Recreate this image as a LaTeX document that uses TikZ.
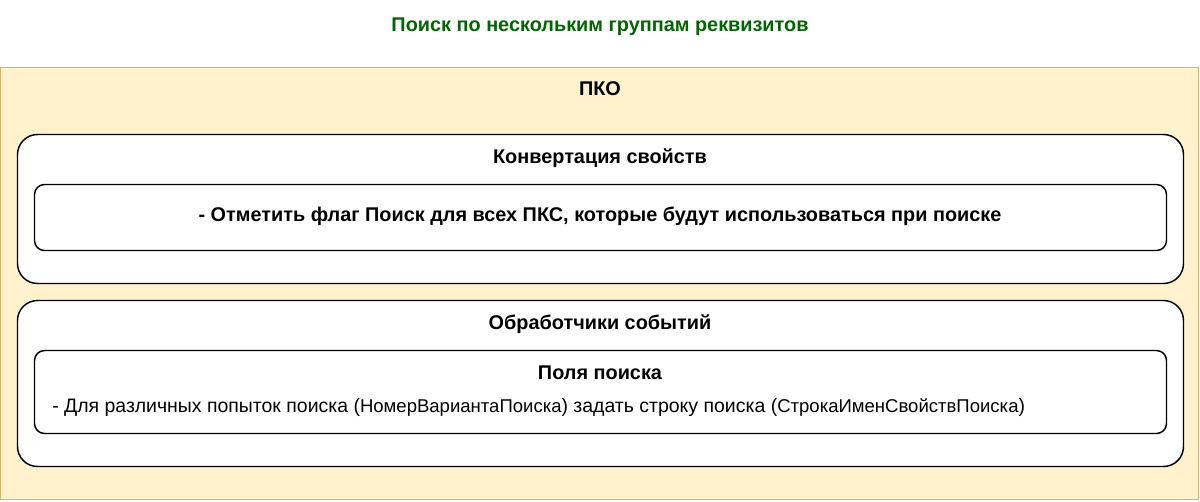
\documentclass[tikz,border=0pt]{standalone}
\usepackage{fontspec}
\setmainfont{Liberation Sans}
\definecolor{pkofill}{HTML}{FFF2CC}
\definecolor{pkodraw}{HTML}{D6B656}
\definecolor{titlegreen}{HTML}{006600}
\begin{document}
\begin{tikzpicture}[x=0.75pt,y=-0.75pt,
  outerbox/.style={draw=pkodraw,fill=pkofill,line width=1.2pt},
  groupbox/.style={draw=black,fill=white,line width=1.1pt,rounded corners=15pt},
  itembox/.style={draw=black,fill=white,line width=1.1pt,rounded corners=7.5pt},
  lbl/.style={font=\fontsize{14.9pt}{17pt}\selectfont\bfseries,inner sep=0pt},
  txt/.style={font=\fontsize{14.6pt}{17pt}\selectfont,inner sep=0pt,anchor=west}]
\useasboundingbox (0,0) rectangle (1200,501);
\node[lbl,text=titlegreen] (title) at (600,27) {Поиск по нескольким группам реквизитов};
\draw[outerbox] (0.5,67.5) rectangle (1198.5,499.5);
\node[lbl] (pko) at (600,89) {ПКО};
\draw[groupbox] (17.5,134.5) rectangle (1183.5,283.5);
\node[lbl] (conv) at (600,158) {Конвертация свойств};
\draw[itembox] (34.5,184.5) rectangle (1166.5,250.5);
\node[lbl] (flag) at (600,216) {- Отметить флаг Поиск для всех ПКС, которые будут использоваться при поиске};
\draw[groupbox] (17.5,300.5) rectangle (1183.5,466.5);
\node[lbl] (handlers) at (600,324) {Обработчики событий};
\draw[itembox] (34.5,350.5) rectangle (1166.5,433.5);
\node[lbl] (fields) at (600,373) {Поля поиска};
\node[txt] (line) at (52,407) {- Для различных попыток поиска ({\fontsize{13.9pt}{15pt}\selectfont НомерВариантаПоиска}) задать строку поиска ({\fontsize{13.9pt}{15pt}\selectfont СтрокаИменСвойствПоиска})};
\end{tikzpicture}
\end{document}
